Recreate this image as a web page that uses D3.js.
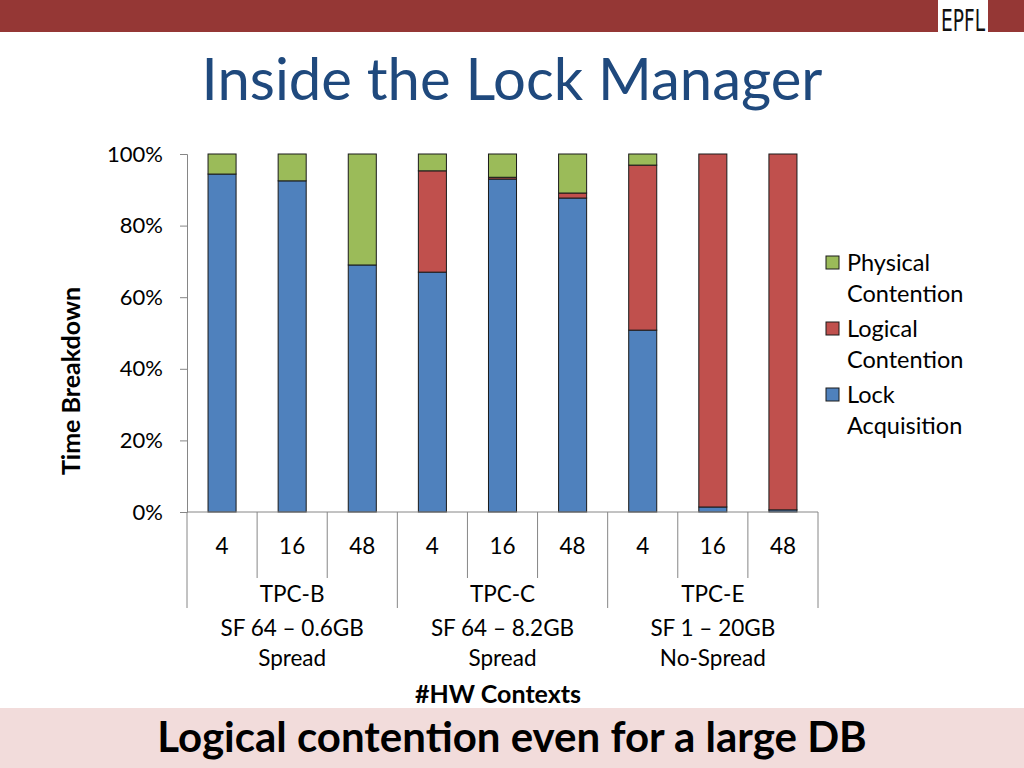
<!DOCTYPE html>
<html><head><meta charset="utf-8">
<script src="https://cdn.jsdelivr.net/npm/d3@7"></script>
<style>body{margin:0;background:#fff;}svg{display:block;}</style>
</head><body>
<svg id="c" width="1024" height="768"></svg>
<script>
const groups = ["TPC-B","TPC-C","TPC-E"];
const groupSub1 = ["SF 64 \u2013 0.6GB","SF 64 \u2013 8.2GB","SF 1 \u2013 20GB"];
const groupSub2 = ["Spread","Spread","No-Spread"];
const contexts = ["4","16","48"];
const lockAcq   = [94.4, 92.5, 69.0, 67.0, 93.0, 87.7, 50.8, 1.4, 0.6];
const logical   = [0.0, 0.0, 0.0, 28.3, 0.5, 1.4, 46.1, 98.6, 99.4];
const physical  = [5.6, 7.5, 31.0, 4.7, 6.5, 10.9, 3.1, 0.0, 0.0];
const seriesNames = ["Lock Acquisition","Logical Contention","Physical Contention"];
const seriesColors = ["#4F81BD","#C0504D","#9BBB59"];
const yTicks = [0,20,40,60,80,100];

const font = "Lato, 'Open Sans', sans-serif";
const svg = d3.select("#c");

// top band
svg.append("rect").attr("x",0).attr("y",0).attr("width",1024).attr("height",32).attr("fill","#953735");
svg.append("rect").attr("x",938).attr("y",0).attr("width",50).attr("height",34).attr("fill","#fff");
svg.append("text").attr("x",941).attr("y",31)
  .attr("font-family","'DejaVu Sans Condensed','Liberation Sans Narrow',sans-serif").attr("font-size",30)
  .attr("textLength",44).attr("lengthAdjust","spacingAndGlyphs")
  .attr("fill","#111").text("EPFL");

// title
svg.append("text").attr("x",512).attr("y",100).attr("text-anchor","middle")
  .attr("font-family",font).attr("font-size",58).attr("fill","#1F497D").text("Inside the Lock Manager");

// bottom band
svg.append("rect").attr("x",0).attr("y",708).attr("width",1024).attr("height",60).attr("fill","#F2DCDB");
svg.append("text").attr("x",512).attr("y",752).attr("text-anchor","middle")
  .attr("font-family",font).attr("font-weight","bold").attr("font-size",42).attr("fill","#000")
  .text("Logical contention even for a large DB");

const x0 = 187, x1 = 818, yTop = 154, yBot = 512;
const cats = [];
groups.forEach(g => contexts.forEach(c => cats.push(g+"|"+c)));
const x = d3.scaleBand().domain(cats).range([x0,x1]).paddingInner(0.6).paddingOuter(0.3);
const xb = d3.scaleBand().domain(cats).range([x0,x1]);
const y = d3.scaleLinear().domain([0,100]).range([yBot,yTop]);

// y axis
const yAxis = d3.axisLeft(y).tickValues(yTicks).tickFormat(d=>d+"%").tickSize(7);
const ga = svg.append("g").attr("transform",`translate(${x0},0)`).call(yAxis);
ga.select(".domain").attr("stroke","#868686");
ga.selectAll(".tick line").attr("stroke","#868686");
ga.selectAll(".tick text").attr("font-family",font).attr("font-size",22).attr("fill","#000").attr("x",-24);

// stacked bars
const rows = cats.map((c,i)=>({cat:c, v:[lockAcq[i],logical[i],physical[i]]}));
rows.forEach(r=>{
  let acc = 0;
  r.v.forEach((v,si)=>{
    if (v<=0) return;
    svg.append("rect").attr("x",x(r.cat)).attr("width",x.bandwidth())
      .attr("y",y(acc+v)).attr("height",y(acc)-y(acc+v))
      .attr("fill",seriesColors[si]).attr("stroke","#1a1a1a").attr("stroke-width",1);
    acc += v;
  });
});

// category axis
const fs = 22.5;
const ax = svg.append("g");
ax.append("line").attr("x1",x0).attr("x2",x1).attr("y1",yBot).attr("y2",yBot).attr("stroke","#868686");
cats.forEach((c,i)=>{
  const xl = xb(c);
  const isGroup = i%3===0;
  ax.append("line").attr("x1",xl).attr("x2",xl).attr("y1",yBot).attr("y2",isGroup?608:578).attr("stroke","#868686");
  ax.append("text").attr("x",xb(c)+xb.bandwidth()/2).attr("y",554).attr("text-anchor","middle")
    .attr("font-family",font).attr("font-size",fs).attr("fill","#000").text(contexts[i%3]);
});
ax.append("line").attr("x1",x1).attr("x2",x1).attr("y1",yBot).attr("y2",608).attr("stroke","#868686");
groups.forEach((g,gi)=>{
  const cx = xb(g+"|16")+xb.bandwidth()/2;
  ax.append("text").attr("x",cx).attr("y",602).attr("text-anchor","middle")
    .attr("font-family",font).attr("font-size",fs).attr("fill","#000").text(g);
  ax.append("text").attr("x",cx).attr("y",636).attr("text-anchor","middle")
    .attr("font-family",font).attr("font-size",fs).attr("fill","#000").text(groupSub1[gi]);
  ax.append("text").attr("x",cx).attr("y",666).attr("text-anchor","middle")
    .attr("font-family",font).attr("font-size",fs).attr("fill","#000").text(groupSub2[gi]);
});

// axis titles
svg.append("text").attr("x",498).attr("y",703).attr("text-anchor","middle")
  .attr("font-family",font).attr("font-weight","bold").attr("font-size",25).text("#HW Contexts");
svg.append("text").attr("transform","translate(80,381) rotate(-90)").attr("text-anchor","middle")
  .attr("font-family",font).attr("font-weight","bold").attr("font-size",25).text("Time Breakdown");

// legend
const legendOrder = [2,1,0];
const legendLines = [["Physical","Contention"],["Logical","Contention"],["Lock","Acquisition"]];
legendOrder.forEach((si,k)=>{
  const ly = 263 + k*66;
  svg.append("rect").attr("x",826).attr("y",ly-7).attr("width",13).attr("height",13)
    .attr("fill",seriesColors[si]).attr("stroke","#1a1a1a").attr("stroke-width",1);
  legendLines[k].forEach((t,j)=>{
    svg.append("text").attr("x",847).attr("y",ly+8+j*31).attr("font-family",font)
      .attr("font-size",23.5).attr("fill","#000").text(t);
  });
});
</script>
</body></html>
